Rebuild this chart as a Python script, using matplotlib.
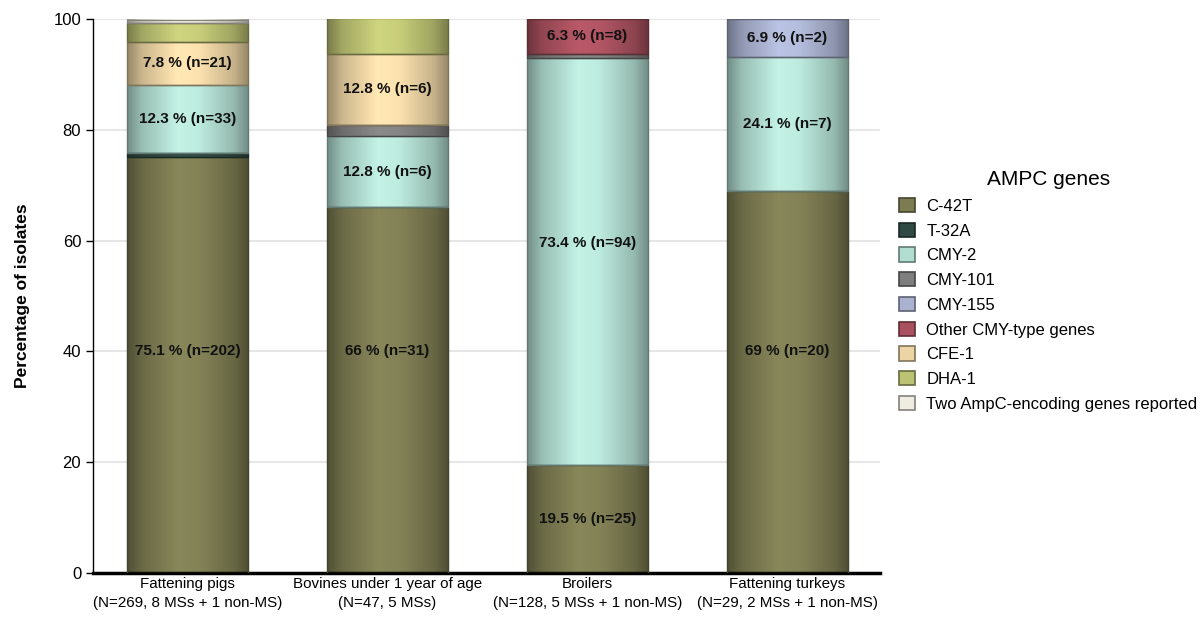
import numpy as np
import matplotlib
matplotlib.use('Agg')
import matplotlib.pyplot as plt
from matplotlib.colors import to_rgb
from matplotlib.patches import Patch

plt.rcParams['font.family'] = ['Liberation Sans', 'DejaVu Sans']

categories = ['Fattening pigs\n(N=269, 8 MSs + 1 non-MS)',
              'Bovines under 1 year of age\n(N=47, 5 MSs)',
              'Broilers\n(N=128, 5 MSs + 1 non-MS)',
              'Fattening turkeys\n(N=29, 2 MSs + 1 non-MS)']
genes = ['C-42T', 'T-32A', 'CMY-2', 'CMY-101', 'CMY-155',
         'Other CMY-type genes', 'CFE-1', 'DHA-1', 'Two AmpC-encoding genes reported']
# isolate counts per gene (rows) and category (columns)
counts = {
    'C-42T':   [202, 31, 25, 20],
    'T-32A':   [2, 0, 0, 0],
    'CMY-2':   [33, 6, 94, 7],
    'CMY-101': [0, 1, 1, 0],
    'CMY-155': [0, 0, 0, 2],
    'Other CMY-type genes': [0, 0, 8, 0],
    'CFE-1':   [21, 6, 0, 0],
    'DHA-1':   [9, 3, 0, 0],
    'Two AmpC-encoding genes reported': [2, 0, 0, 0],
}
percent = {
    'C-42T':   [75.1, 66, 19.5, 69],
    'T-32A':   [0.7, 0, 0, 0],
    'CMY-2':   [12.3, 12.8, 73.4, 24.1],
    'CMY-101': [0, 2.1, 0.8, 0],
    'CMY-155': [0, 0, 0, 6.9],
    'Other CMY-type genes': [0, 0, 6.3, 0],
    'CFE-1':   [7.8, 12.8, 0, 0],
    'DHA-1':   [3.3, 6.4, 0, 0],
    'Two AmpC-encoding genes reported': [0.7, 0, 0, 0],
}
# which segments carry a value label
labelled = {
    'C-42T':   [1, 1, 1, 1],
    'CMY-2':   [1, 1, 1, 1],
    'CMY-155': [0, 0, 0, 1],
    'Other CMY-type genes': [0, 0, 1, 0],
    'CFE-1':   [1, 1, 0, 0],
}

colors = {
    'C-42T': '#7c7b52',
    'T-32A': '#2e4a42',
    'CMY-2': '#b2ddd1',
    'CMY-101': '#7e7e7e',
    'CMY-155': '#aab2d0',
    'Other CMY-type genes': '#a9515f',
    'CFE-1': '#ecd4a4',
    'DHA-1': '#bcc273',
    'Two AmpC-encoding genes reported': '#efede2',
}


def shade(ax, rect, color):
    # cylinder-like horizontal gradient inside a bar segment
    x0, y0 = rect.get_x(), rect.get_y()
    w, h = rect.get_width(), rect.get_height()
    t = np.linspace(0, 1, 120)
    f = np.interp(t, [0, 0.12, 0.42, 0.6, 0.88, 1], [0.64, 0.86, 1.1, 1.06, 0.84, 0.64])
    rgb = np.clip(np.outer(f, to_rgb(color)), 0, 1)[None, :, :]
    ax.imshow(rgb, extent=[x0, x0 + w, y0, y0 + h], aspect='auto',
              interpolation='bilinear', zorder=2.5)


fig = plt.figure(figsize=(12.03, 6.21), dpi=100)
ax = fig.add_axes([0.0773, 0.0773, 0.7315 - 0.0773, 0.9694 - 0.0773])

x = np.arange(len(categories))
bottom = np.zeros(len(categories))
for g in genes:
    vals = np.array(percent[g], dtype=float)
    edge = np.array(to_rgb(colors[g])) * 0.55
    bars = ax.bar(x, vals, bottom=bottom, width=0.605, color=colors[g],
                  edgecolor='none', zorder=2)
    for i, r in enumerate(bars):
        if vals[i] <= 0:
            continue
        shade(ax, r, colors[g])
        ax.bar(x[i], vals[i], bottom=bottom[i], width=0.605, fill=False,
               edgecolor=edge, linewidth=1.0, zorder=3)
        if g in labelled and labelled[g][i]:
            # tall segments get their label lower down, as in the source chart
            ly = bottom[i] + (40 if vals[i] > 50 else vals[i] / 2)
            ax.text(x[i], ly, f'{vals[i]:g} % (n={counts[g][i]})',
                    ha='center', va='center', fontsize=11, fontweight='bold',
                    color='#111111', zorder=4)
    bottom += vals

ax.set_xlim(-0.4725, 3.4625)
ax.set_ylim(0, 100)
ax.set_yticks(range(0, 101, 20))
ax.yaxis.grid(True, color='#e2e2e2', linewidth=1.2, zorder=0)
ax.set_axisbelow(True)
ax.set_xticks(x)
ax.set_xticklabels(categories, fontsize=10.9, linespacing=1.45)
ax.tick_params(axis='x', length=0, pad=3)
ax.tick_params(axis='y', labelsize=12, length=5, width=1, direction='out')
for s in ['top', 'right']:
    ax.spines[s].set_visible(False)
ax.spines['bottom'].set_linewidth(2.5)
ax.spines['left'].set_linewidth(1)
ax.set_ylabel('Percentage of isolates', fontsize=12.5, fontweight='bold', labelpad=17)

handles = [Patch(facecolor=colors[g], edgecolor=np.array(to_rgb(colors[g])) * 0.55,
                 linewidth=1.2, label=g) for g in genes]
leg = ax.legend(handles=handles, title='AMPC genes', loc='upper left',
                bbox_to_anchor=(899 / 1203, 1 - 170 / 621), bbox_transform=fig.transFigure,
                frameon=False, fontsize=12, title_fontsize=15, borderpad=0,
                borderaxespad=0, handlelength=0.95, handleheight=0.95,
                handletextpad=0.7, labelspacing=0.53)

fig.savefig('out.png', dpi=100)
